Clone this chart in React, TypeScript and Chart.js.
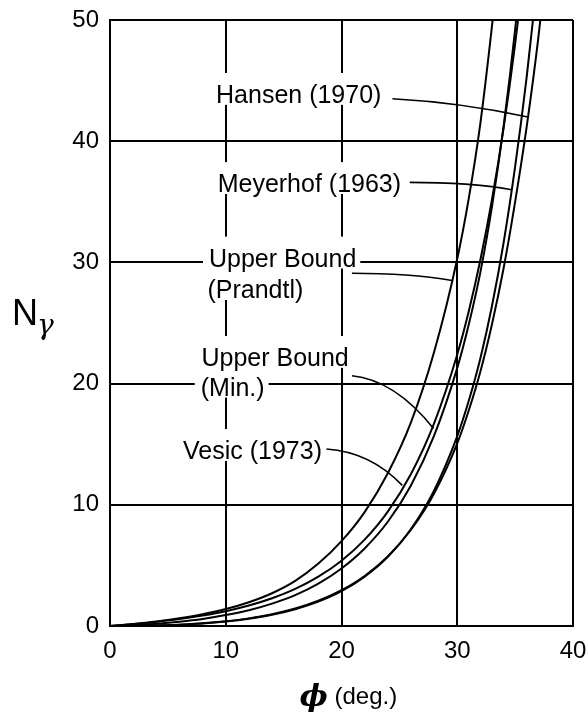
import React, { useEffect, useRef } from "react";
import { Chart, registerables } from "chart.js";

Chart.register(...registerables);

// friction angle (deg.)
const phi = [0, 2, 4, 6, 8, 10, 12, 14, 16, 18, 20, 22, 24, 26, 28, 30, 31, 32, 33, 34, 35, 36, 37, 38];
// N-gamma curves
const upperPrandtl = [0, 0.17, 0.38, 0.65, 0.98, 1.4, 1.96, 2.7, 3.72, 5.15, 7.0, 9.4, 12.6, 16.8, 22.6, 30.3, 35.3, 41.5, 49.5, 58.5, 69, 81, 95, 112];
const vesic = [0, 0.15, 0.34, 0.57, 0.86, 1.22, 1.69, 2.29, 3.06, 4.07, 5.39, 7.13, 9.44, 12.54, 16.72, 22.4, 25.99, 30.22, 35.19, 41.06, 48.03, 56.31, 66.2, 78.0];
const upperMin = [0, 0.06, 0.18, 0.35, 0.58, 0.9, 1.3, 1.85, 2.55, 3.5, 4.75, 6.4, 8.6, 11.6, 15.7, 21.3, 24.9, 29.2, 34.6, 41.2, 49.2, 59, 70, 83];
const meyerhof = [0, 0.01, 0.04, 0.11, 0.21, 0.37, 0.6, 0.92, 1.38, 2.01, 2.87, 4.07, 5.71, 8.0, 11.19, 15.67, 18.6, 22.1, 26.4, 31.6, 37.9, 45.3, 54.0, 64];
const hansen = [0, 0.01, 0.05, 0.11, 0.22, 0.39, 0.63, 0.97, 1.44, 2.08, 2.95, 4.13, 5.74, 7.94, 10.94, 15.07, 17.8, 21.0, 24.9, 29.5, 35.0, 41.2, 48.5, 57.5];

const xMin = 0;
const xMax = 40;
const yMin = 0;
const yMax = 50;
const tickStep = 10;

// curve labels (text lines, anchored in data units: left edge, cap centre)
const labelLines = ["Hansen (1970)", "Meyerhof (1963)", "Upper Bound", "(Prandtl)", "Upper Bound", "(Min.)", "Vesic (1973)"];
const labelPhi = [9.16, 9.3, 8.55, 8.42, 7.9, 7.84, 6.31];
const labelN = [43.9, 36.55, 30.4, 27.8, 22.2, 19.75, 14.52];

// leader lines (data units): start, control, end
const leaderStart = [[24.4, 43.5], [25.9, 36.6], [20.9, 29.1], [20.9, 20.65], [18.7, 14.6]];
const leaderCtrl = [[30.2, 43.2], [31.1, 36.6], [25.9, 29.1], [24.6, 20.3], [22.5, 14.35]];
const leaderEnd = [[36.1, 42.0], [34.7, 36.0], [29.55, 28.5], [27.95, 16.3], [25.25, 11.6]];

const SANS = '"Liberation Sans", Arial, Helvetica, sans-serif';

const annotatePlugin = {
  id: "annotate",
  afterDatasetsDraw(chart: any) {
    const { ctx, scales } = chart;
    const x = scales.x;
    const y = scales.y;
    const fs = 25;
    ctx.save();
    ctx.font = `${fs}px ${SANS}`;
    ctx.textBaseline = "alphabetic";
    ctx.textAlign = "left";
    const items = labelLines.map((t, i) => {
      const px = x.getPixelForValue(labelPhi[i]);
      const cy = y.getPixelForValue(labelN[i]);
      const base = cy + 0.358 * fs;
      const w = ctx.measureText(t).width;
      return { t, px, base, w };
    });
    ctx.fillStyle = "#ffffff";
    items.forEach((it) => {
      const capTop = it.base - 0.716 * fs;
      ctx.fillRect(it.px - 6, capTop - 12, it.w + 10, 0.716 * fs + 14);
    });
    ctx.fillStyle = "#000000";
    items.forEach((it) => ctx.fillText(it.t, it.px, it.base));

    ctx.strokeStyle = "#000000";
    ctx.lineWidth = 1.6;
    for (let i = 0; i < leaderStart.length; i++) {
      ctx.beginPath();
      ctx.moveTo(x.getPixelForValue(leaderStart[i][0]), y.getPixelForValue(leaderStart[i][1]));
      ctx.quadraticCurveTo(
        x.getPixelForValue(leaderCtrl[i][0]),
        y.getPixelForValue(leaderCtrl[i][1]),
        x.getPixelForValue(leaderEnd[i][0]),
        y.getPixelForValue(leaderEnd[i][1])
      );
      ctx.stroke();
    }
    ctx.restore();
  },
  afterDraw(chart: any) {
    const { ctx, chartArea } = chart;
    ctx.save();
    ctx.fillStyle = "#000000";
    ctx.textBaseline = "alphabetic";
    ctx.textAlign = "left";
    // y-axis title N_gamma
    const yc = (chartArea.top + chartArea.bottom) / 2;
    ctx.font = `36px ${SANS}`;
    ctx.fillText("N", 12, yc + 2);
    ctx.font = 'italic 28px "DejaVu Serif", serif';
    ctx.fillText("γ", 37, yc + 11);
    // x-axis title
    const xc = (chartArea.left + chartArea.right) / 2;
    ctx.font = 'bold italic 30px "DejaVu Serif", serif';
    ctx.fillText("ϕ", xc - 42, chartArea.bottom + 80);
    ctx.font = `24px ${SANS}`;
    ctx.fillText("(deg.)", xc - 7, chartArea.bottom + 78);
    ctx.restore();
  },
};

export default function App() {
  const ref = useRef<HTMLCanvasElement | null>(null);

  useEffect(() => {
    document.body.style.margin = "0";
    const canvas = ref.current;
    if (!canvas) return;
    const mk = (vals: number[]) => phi.map((p, i) => ({ x: p, y: vals[i] }));
    const line = (label: string, vals: number[]) => ({
      label,
      data: mk(vals),
      borderColor: "#000000",
      backgroundColor: "#000000",
      borderWidth: 2,
      pointRadius: 0,
      fill: false,
      cubicInterpolationMode: "monotone" as const,
    });
    const chart = new Chart(canvas, {
      type: "line",
      data: {
        datasets: [
          line("Upper Bound (Prandtl)", upperPrandtl),
          line("Vesic (1973)", vesic),
          line("Upper Bound (Min.)", upperMin),
          line("Meyerhof (1963)", meyerhof),
          line("Hansen (1970)", hansen),
        ],
      },
      options: {
        responsive: false,
        animation: false,
        layout: { padding: { top: 20, right: 15, left: 0, bottom: 0 } },
        plugins: { legend: { display: false }, tooltip: { enabled: false } },
        scales: {
          x: {
            type: "linear",
            min: xMin,
            max: xMax,
            afterFit: (s: any) => {
              s.height = 86;
              s.paddingLeft = 0;
              s.paddingRight = 0;
            },
            ticks: {
              stepSize: tickStep,
              color: "#000000",
              padding: 11,
              font: { family: SANS, size: 24 },
            },
            grid: { color: "#000000", lineWidth: 2, drawTicks: false },
            border: { display: true, color: "#000000", width: 2 },
          },
          y: {
            type: "linear",
            min: yMin,
            max: yMax,
            afterFit: (s: any) => {
              s.width = 110;
              s.paddingTop = 0;
              s.paddingBottom = 0;
            },
            ticks: {
              stepSize: tickStep,
              color: "#000000",
              padding: 11,
              font: { family: SANS, size: 24 },
            },
            grid: { color: "#000000", lineWidth: 2, drawTicks: false },
            border: { display: true, color: "#000000", width: 2 },
          },
        },
      },
      plugins: [annotatePlugin],
    });
    return () => chart.destroy();
  }, []);

  return (
    <div style={{ width: 588, height: 712, background: "#ffffff" }}>
      <canvas ref={ref} width={588} height={712} style={{ display: "block" }} />
    </div>
  );
}
